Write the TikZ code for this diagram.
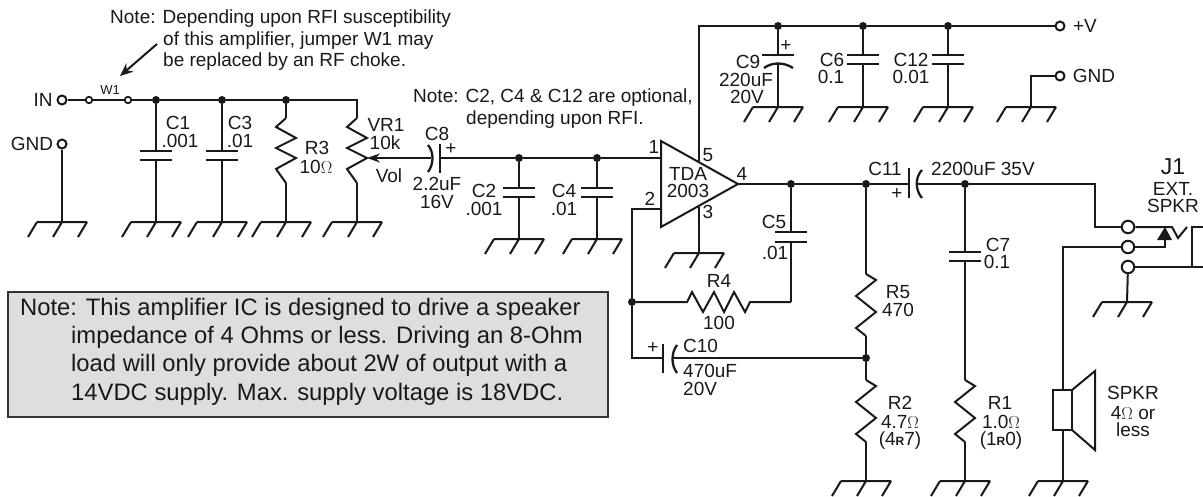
\documentclass[tikz,border=0pt]{standalone}
\usepackage{fontspec}
\setmainfont{Liberation Sans}
\usetikzlibrary{arrows.meta}
\tikzset{
  x=1pt,y=-1pt,
  wire/.style={line width=2pt,black!90,line join=miter},
  plate/.style={line width=2.3pt,black!90},
  term/.style={circle,draw=black!90,line width=2pt,fill=white,inner sep=0pt,minimum size=9pt},
  jackterm/.style={circle,draw=black!90,line width=2pt,fill=white,inner sep=0pt,minimum size=12.5pt},
  jumper/.style={circle,draw=black!90,line width=1.7pt,fill=white,inner sep=0pt,minimum size=6.5pt},
  dot/.style={circle,fill=black!90,inner sep=0pt,minimum size=8pt},
  lab/.style={inner sep=0pt,font=\fontsize{19}{19}\selectfont,text=black!90},
  note/.style={inner sep=0pt,anchor=west,font=\fontsize{19}{19}\selectfont,text=black!90},
  bignote/.style={inner sep=0pt,anchor=west,font=\fontsize{23.8}{24}\selectfont,text=black!90},
}
\newcommand{\gnd}[2]{\draw[wire] (#1-25,#2) -- (#1+25,#2)
  (#1-25,#2) -- ++(-9,15) (#1,#2) -- ++(-9,15) (#1+25,#2) -- ++(-9,15);}
% left-first resistor (R3, VR1)
\newcommand{\rvl}[2]{\draw[wire] (#1,#2) -- (#1-10,#2+9) -- (#1+10,#2+20) -- (#1-10,#2+30) -- (#1+10,#2+40) -- (#1-10,#2+51) -- (#1,#2+65);}
% right-first resistor (R5, R2, R1)
\newcommand{\rvr}[2]{\draw[wire] (#1,#2) -- (#1+10,#2+6) -- (#1-10,#2+22) -- (#1+10,#2+38) -- (#1-10,#2+54) -- (#1,#2+62);}
\newcommand{\capv}[2]{\draw[plate] (#1-16,#2) -- (#1+16,#2) (#1-16,#2+9) -- (#1+16,#2+9);}
\begin{document}
\begin{tikzpicture}
\useasboundingbox (0,0) rectangle (1203,496);
% gray note box
\node[draw=black!80,line width=2pt,fill=black!13,minimum width=600pt,minimum height=125pt,inner sep=0pt] (notebox) at (307.5,354) {};
\node[bignote] (n1) at (20,309) {Note: This amplifier IC is designed to drive a speaker};
\node[bignote] (n2) at (71,337) {impedance of 4 Ohms or less. Driving an 8-Ohm};
\node[bignote] (n3) at (71,365) {load will only provide about 2W of output with a};
\node[bignote] (n4) at (71,394) {14VDC supply. Max. supply voltage is 18VDC.};
% notes
\node[note] (t1) at (110,19) {Note: Depending upon RFI susceptibility};
\node[note] (t2) at (163,41) {of this amplifier, jumper W1 may};
\node[note] (t3) at (163,62) {be replaced by an RF choke.};
\node[note] (t4) at (413,98) {Note: C2, C4 \& C12 are optional,};
\node[note] (t5) at (466,120) {depending upon RFI.};
\coordinate (ja) at (157,44);
\coordinate (jb) at (120,76);
\draw[wire,-{Stealth[length=13pt,width=11pt]}] (ja) -- (jb);

% input
\node[term] (in) at (62,100) {};
\node[jumper] (w1a) at (89,100) {};
\node[jumper] (w1b) at (128,100) {};
\node[term] (gndin) at (62,144) {};
\node[dot] (j1) at (156,100) {};
\node[dot] (j2) at (222,100) {};
\node[dot] (j3) at (286,100) {};
\coordinate (vrtop) at (357,100);
\draw[wire] (in) -- (w1a);
\draw[wire] (w1a) -- (w1b);
\draw[wire] (w1b) -- (j1) -- (j2) -- (j3) -- (vrtop) -- (357,118);
\node[lab] (lin) at (43,100) {IN};
\node[lab] (lgnd) at (32,144) {GND};
\node[lab,font=\fontsize{13}{13}\selectfont] (lw1) at (110,90) {W1};
\draw[wire] (gndin) -- (62,222); \gnd{62}{222}
% C1 C3
\draw[wire] (j1) -- (156,151) (156,160) -- (156,222); \capv{156}{151} \gnd{156}{222}
\draw[wire] (j2) -- (222,151) (222,160) -- (222,222); \capv{222}{151} \gnd{222}{222}
\node[lab] (lc1) at (178,123) {C1};
\node[lab] (lc1v) at (180,141) {.001};
\node[lab] (lc3) at (240,123) {C3};
\node[lab] (lc3v) at (240,141) {.01};
% R3 VR1
\draw[wire] (j3) -- (286,118); \rvl{286}{118} \draw[wire] (286,183) -- (286,222); \gnd{286}{222}
\rvl{357}{118} \draw[wire] (357,183) -- (357,222); \gnd{357}{222}
\node[lab] (lr3) at (317,148) {R3};
\node[lab] (lr3v) at (316,167) {10$\Omega$};
\node[lab] (lvr) at (386,125) {VR1};
\node[lab] (lvrv) at (385,143) {10k};
\node[lab] (lvol) at (389,176) {Vol};
% C8
\coordinate (wip) at (367,158);
\coordinate (c8a) at (431,158);
\coordinate (c8b) at (440,158);
\draw[wire,{Stealth[length=13pt,width=9pt]}-] (wip) -- (c8a);
\draw[plate] (428,145) .. controls (434,152) and (434,164) .. (428,172);
\draw[plate] (440,144) -- (440,173);
\node[lab] (lc8) at (437,134) {C8};
\node[lab] (lc8p) at (451,149) {+};
\node[lab] (lc8v) at (437,184) {2.2uF};
\node[lab] (lc8w) at (437,202) {16V};
\node[dot] (j4) at (519,158) {};
\node[dot] (j5) at (597,158) {};
\coordinate (p1) at (661,158);
\draw[wire] (c8b) -- (j4) -- (j5) -- (p1);
\draw[wire] (j4) -- (519,188) (519,197) -- (519,239); \capv{519}{188} \gnd{519}{239}
\draw[wire] (j5) -- (597,188) (597,197) -- (597,239); \capv{597}{188} \gnd{597}{239}
\node[lab] (lc2) at (484,191) {C2};
\node[lab] (lc2v) at (484,209) {.001};
\node[lab] (lc4) at (564,191) {C4};
\node[lab] (lc4v) at (564,209) {.01};
% Op amp
\coordinate (oa) at (661,141);
\coordinate (ob) at (661,227);
\coordinate (oc) at (738,184);
\draw[wire] (oa) -- (oc) -- (ob) -- cycle;
\node[lab] (ltda) at (688,174) {TDA};
\node[lab] (l2003) at (688,191) {2003};
\node[lab] (pn1) at (654,147) {1};
\node[lab] (pn2) at (650,199) {2};
\node[lab] (pn3) at (708,212) {3};
\node[lab] (pn4) at (742,174) {4};
\node[lab] (pn5) at (708,155) {5};
% supply
\node[dot] (jc9) at (778,26) {};
\node[dot] (jc6) at (863,26) {};
\node[dot] (jc12) at (948,26) {};
\node[term] (vp) at (1060,26) {};
\draw[wire] (699,161) -- (699,26) -- (jc9) -- (jc6) -- (jc12) -- (vp);
\node[lab] (lvp) at (1085,26) {+V};
\node[term] (gndo) at (1060,76) {};
\draw[wire] (gndo) -- (1031,76) -- (1031,107); \gnd{1031}{107}
\node[lab] (lgo) at (1094,76) {GND};
\draw[wire] (jc9) -- (778,55) (778,63) -- (778,107);
\draw[plate] (762,55) -- (794,55);
\draw[plate] (764,68) .. controls (772,62) and (784,62) .. (793,68);
\gnd{778}{107}
\node[lab] (lc9p) at (786,46) {+};
\node[lab] (lc9) at (748,62) {C9};
\node[lab] (lc9v) at (746,80) {220uF};
\node[lab] (lc9w) at (747,97) {20V};
\draw[wire] (jc6) -- (863,55) (863,64) -- (863,107); \capv{863}{55} \gnd{863}{107}
\node[lab] (lc6) at (832,60) {C6};
\node[lab] (lc6v) at (831,77) {0.1};
\draw[wire] (jc12) -- (948,55) (948,64) -- (948,107); \capv{948}{55} \gnd{948}{107}
\node[lab] (lc12) at (911,60) {C12};
\node[lab] (lc12v) at (911,77) {0.01};
% pin 3
\draw[wire] (699,207) -- (699,253); \gnd{699}{253}
% output
\node[dot] (jo) at (791,184) {};
\node[dot] (jr) at (866,184) {};
\node[dot] (jc7) at (965,184) {};
\draw[wire] (oc) -- (jo) -- (jr) -- (909,184);
\draw[plate] (909,168) -- (909,198);
\draw[plate] (922,170) .. controls (915,177) and (915,190) .. (922,198);
\draw[wire] (917,184) -- (jc7) -- (1095,184) -- (1095,227) -- (1122,227);
\node[lab] (lc11) at (885,169) {C11};
\node[lab] (lc11p) at (897,194) {+};
\node[lab,anchor=west] (lc11v) at (931,169) {2200uF 35V};
% C5
\draw[wire] (jo) -- (791,232) (791,242) -- (791,302);
\draw[plate] (775,232) -- (807,232) (775,242) -- (807,242);
\node[lab] (lc5) at (774,222) {C5};
\node[lab] (lc5v) at (775,253) {.01};
% R4
\node[dot] (jfb) at (632,302) {};
\draw[wire] (661,209) -- (632,209) -- (jfb);
\draw[wire] (jfb) -- (687,302) -- (692,292) -- (703,312) -- (714,292) -- (724,312) -- (734,292) -- (745,312) -- (750,302) -- (791,302);
\node[lab] (lr4) at (719,281) {R4};
\node[lab] (lr4v) at (719,323) {100};
% C10
\node[dot] (jdiv) at (866,358) {};
\draw[wire] (jfb) -- (632,358) -- (663,358);
\draw[plate] (663,344) -- (663,373);
\draw[plate] (677,345) .. controls (671,353) and (671,365) .. (677,373);
\draw[wire] (673,358) -- (jdiv);
\node[lab] (lc10p) at (653,348) {+};
\node[lab,anchor=west] (lc10) at (683,346) {C10};
\node[lab,anchor=west] (lc10v) at (683,371) {470uF};
\node[lab,anchor=west] (lc10w) at (683,389) {20V};
% R5 R2
\draw[wire] (jr) -- (866,274); \rvr{866}{274}
\draw[wire] (866,336) -- (jdiv) -- (866,380); \rvr{866}{380}
\draw[wire] (866,442) -- (866,481); \gnd{866}{481}
\node[lab] (lr5) at (898,292) {R5};
\node[lab] (lr5v) at (898,310) {470};
\node[lab] (lr2) at (900,403) {R2};
\node[lab] (lr2v) at (900,422) {4.7$\Omega$};
\node[lab] (lr2w) at (900,441) {(4{\fontsize{12}{12}\selectfont\textbf{R}}7)};
% C7 R1
\draw[wire] (jc7) -- (965,252) (965,261) -- (965,380); \capv{965}{252}
\rvr{965}{380}
\draw[wire] (965,442) -- (965,481); \gnd{965}{481}
\node[lab] (lc7) at (998,245) {C7};
\node[lab] (lc7v) at (997,262) {0.1};
\node[lab] (lr1) at (1000,403) {R1};
\node[lab] (lr1v) at (1001,422) {1.0$\Omega$};
\node[lab] (lr1w) at (1001,441) {(1{\fontsize{12}{12}\selectfont\textbf{R}}0)};
% Jack
\node[jackterm] (ja1) at (1128,227) {};
\node[jackterm] (ja2) at (1128,247) {};
\node[jackterm] (ja3) at (1128,267) {};
\coordinate (spk) at (1063,390);
\draw[wire] (ja2) -- (1063,247) -- (spk);
\draw[wire] (ja1) -- (1172,227) -- (1178,238) -- (1187,227);
\draw[wire] (ja2) -- (1165,247) -- (1165,240);
\fill[black!90] (1165,227) -- (1172,240) -- (1157,240) -- cycle;
\draw[wire] (1203,227) -- (1192,227) -- (1192,267);
\draw[wire] (ja3) -- (1203,267);
\draw[wire] (ja3) -- (1127,302); \gnd{1127}{302}
\node[lab,font=\fontsize{23}{23}\selectfont] (lj1) at (1173,167) {J1};
\node[lab] (lext) at (1173,189) {EXT.};
\node[lab] (lspkr) at (1173,206) {SPKR};
% Speaker
\draw[wire] (1053,390) rectangle (1072,430);
\draw[wire] (1072,390) -- (1095,371) -- (1095,450) -- (1072,430);
\draw[wire] (1063,430) -- (1063,481); \gnd{1063}{481}
\node[lab] (ls1) at (1133,393) {SPKR};
\node[lab] (ls2) at (1133,413) {4$\Omega$ or};
\node[lab] (ls3) at (1133,430) {less};
\end{tikzpicture}
\end{document}
